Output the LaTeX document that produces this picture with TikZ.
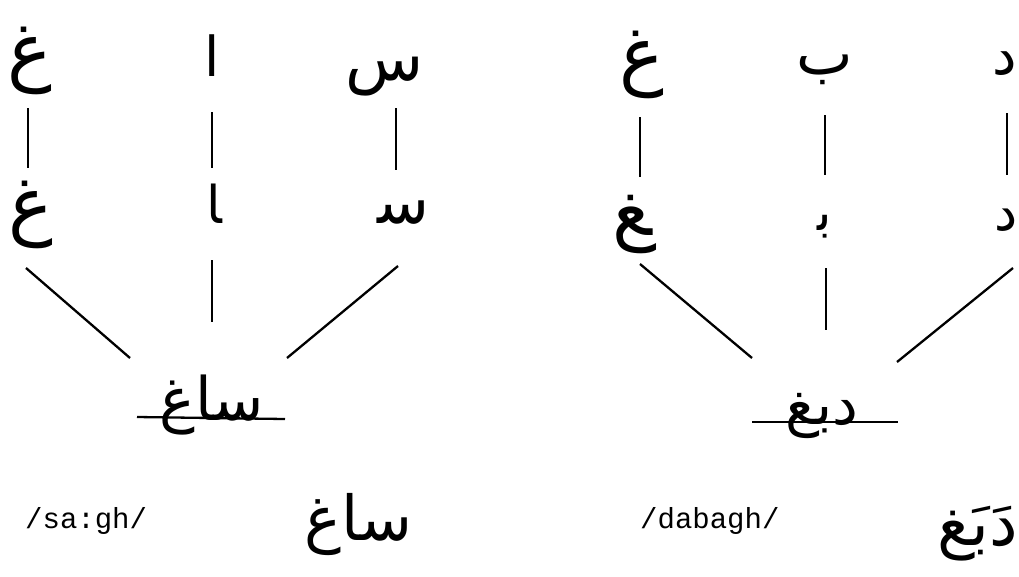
\documentclass[tikz,border=0pt]{standalone}
\usepackage{fontspec}
\newfontfamily\arabicfont[Script=Arabic]{DejaVu Sans}
\newfontfamily\labelfont{Liberation Mono}
\TeXXeTstate=1
\newcommand{\arw}[1]{{\arabicfont\beginR #1\endR}}
\newcommand{\zj}{^^^^200d}
\tikzset{
  letter/.style={font=\arabicfont\fontsize{#1}{#1}\selectfont, inner sep=0pt, anchor=base},
  letter/.default=50,
  phon/.style={font=\labelfont\fontsize{29}{34}\selectfont, inner sep=0pt, anchor=base west},
  link/.style={line width=2.3pt},
}
\begin{document}
\begin{tikzpicture}[x=1pt,y=-1pt]
\useasboundingbox (0,0) rectangle (1019,576);
% ---------- left tree ----------
\node[letter=75] (la) at (30,76) {\arw{غ}};
\node[letter=55] (lb) at (212,76) {\arw{ا}};
\node[letter=64] (lc) at (385,80) {\arw{س}};
\node[letter=75] (ma) at (31,230) {\arw{غ}};
\node[letter=52] (mb) at (214,223) {\arw{\zj ا}};
\node[letter=62] (mc) at (403,223) {\arw{س\zj}};
\node[letter=60] (lw) at (212,420) {\arw{ساغ}};
\node[phon] (lp) at (25,528) {/sa:gh/};
\node[letter=62] (lf) at (358,540) {\arw{ساغ}};
\coordinate (la1) at (28,108);  \coordinate (la2) at (28,168);
\coordinate (lb1) at (212,112); \coordinate (lb2) at (212,168);
\coordinate (lc1) at (396,108); \coordinate (lc2) at (396,170);
\coordinate (ma1) at (26,268);  \coordinate (ma2) at (130,358);
\coordinate (mb1) at (212,260); \coordinate (mb2) at (212,322);
\coordinate (mc1) at (398,266); \coordinate (mc2) at (287,358);
\coordinate (lwl) at (137,417); \coordinate (lwr) at (285,419);
\draw[link] (la1) -- (la2);
\draw[link] (lb1) -- (lb2);
\draw[link] (lc1) -- (lc2);
\draw[link] (ma1) -- (ma2);
\draw[link] (mb1) -- (mb2);
\draw[link] (mc1) -- (mc2);
\draw[link] (lwl) -- (lwr);
% ---------- right tree ----------
\node[letter=75] (ra) at (642,80) {\arw{غ}};
\node[letter=60] (rb) at (825,74) {\arw{ب}};
\node[letter=55] (rc) at (1005,74) {\arw{د}};
\node[letter=75] (na) at (632,235) {\arw{\zj غ}};
\node[letter=52] (nb) at (825,230) {\arw{ب\zj}};
\node[letter=52] (nc) at (1006,230) {\arw{د}};
\node[letter=58] (rw) at (822,424) {\arw{دبغ}};
\node[phon] (rp) at (640,528) {/dabagh/};
\node[letter=64] (rf) at (978,545) {\arw{دَبَغ}};
\coordinate (ra1) at (640,117);  \coordinate (ra2) at (640,177);
\coordinate (rb1) at (825,115);  \coordinate (rb2) at (825,175);
\coordinate (rc1) at (1007,113); \coordinate (rc2) at (1007,175);
\coordinate (na1) at (640,264);  \coordinate (na2) at (752,358);
\coordinate (nb1) at (826,268);  \coordinate (nb2) at (826,330);
\coordinate (nc1) at (1013,268); \coordinate (nc2) at (897,362);
\coordinate (rwl) at (752,422);  \coordinate (rwr) at (898,422);
\draw[link] (ra1) -- (ra2);
\draw[link] (rb1) -- (rb2);
\draw[link] (rc1) -- (rc2);
\draw[link] (na1) -- (na2);
\draw[link] (nb1) -- (nb2);
\draw[link] (nc1) -- (nc2);
\draw[link] (rwl) -- (rwr);
\end{tikzpicture}
\end{document}
